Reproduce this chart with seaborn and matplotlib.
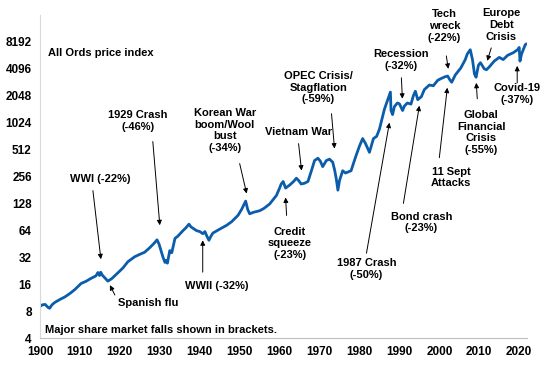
import numpy as np
import pandas as pd
import matplotlib
matplotlib.use("Agg")
import matplotlib.pyplot as plt
import seaborn as sns

# All Ords price index (year, index level)
years = [1900.0, 1900.6, 1901.3, 1902.0, 1902.4, 1903.0, 1903.7, 1905.0, 1906.2, 1907.5,
         1908.7, 1910.3, 1911.5, 1912.8, 1914.0, 1914.5, 1914.9, 1915.2, 1915.6, 1917.0,
         1918.0, 1918.7, 1920.0, 1920.8, 1922.0, 1923.7, 1925.0, 1926.2, 1927.5, 1928.5,
         1929.3, 1929.8, 1930.3, 1930.8, 1931.3, 1931.6, 1931.9, 1932.5, 1933.0, 1933.8,
         1934.5, 1935.8, 1936.5, 1937.3, 1937.8, 1939.2, 1940.0, 1940.8, 1941.3, 1941.8,
         1942.3, 1942.8, 1943.3, 1945.0, 1946.7, 1948.0, 1949.6, 1950.5, 1951.5, 1952.0,
         1952.5, 1953.5, 1955.0, 1956.0, 1957.5, 1959.2, 1960.0, 1960.4, 1960.9, 1961.5,
         1962.5, 1963.5, 1964.2, 1964.8, 1965.4, 1966.2, 1967.1, 1968.0, 1968.75, 1969.6,
         1970.2, 1970.8, 1971.7, 1972.5, 1973.3, 1973.8, 1974.2, 1974.6, 1975.0, 1975.8,
         1976.5, 1977.9, 1979.0, 1980.0, 1980.8, 1981.5, 1982.5, 1983.5, 1984.3, 1985.0,
         1986.25, 1987.0, 1987.75, 1987.9, 1988.3, 1988.75, 1989.5, 1990.0, 1990.8, 1991.25,
         1992.0, 1992.9, 1993.5, 1994.0, 1994.6, 1995.5, 1996.25, 1997.5, 1998.5, 1999.6,
         2000.5, 2001.5, 2002.1, 2002.6, 2003.1, 2004.0, 2005.4, 2006.5, 2007.0, 2007.75,
         2008.3, 2008.8, 2009.2, 2009.8, 2010.3, 2011.25, 2011.8, 2012.5, 2013.75, 2015.0,
         2016.0, 2017.1, 2018.5, 2019.6, 2020.0, 2020.2, 2020.6, 2021.5, 2021.8]
index_level = [9.0, 9.4, 9.5, 8.8, 8.6, 9.4, 10.0, 10.8, 11.5, 12.6,
               13.9, 16.3, 17.2, 18.6, 19.8, 21.6, 20.0, 21.8, 20.2, 17.3,
               18.5, 19.8, 22.5, 24.4, 28.5, 32.4, 34.5, 36.4, 41.0, 45.5,
               50.1, 45.0, 38.0, 32.0, 28.0, 29.5, 27.5, 38.0, 36.0, 52.0,
               55.0, 63.5, 68.0, 75.0, 70.0, 63.5, 62.0, 58.7, 62.0, 55.0,
               49.5, 55.0, 59.7, 66.0, 72.7, 80.0, 94.3, 110.0, 136.0, 110.0,
               98.0, 102.0, 106.0, 112.0, 126.0, 157.0, 190.0, 211.0, 225.0, 190.0,
               205.0, 225.0, 245.0, 230.0, 211.0, 215.0, 225.0, 300.0, 386.0, 410.0,
               380.0, 330.0, 386.0, 400.0, 370.0, 300.0, 240.0, 180.0, 230.0, 297.0,
               280.0, 297.0, 420.0, 560.0, 680.0, 600.0, 477.0, 680.0, 720.0, 865.0,
               1448.0, 1800.0, 2250.0, 1400.0, 1262.0, 1550.0, 1700.0, 1665.0, 1400.0, 1570.0,
               1700.0, 1650.0, 2050.0, 2300.0, 1850.0, 2000.0, 2400.0, 2700.0, 2650.0, 3050.0,
               3200.0, 3350.0, 3400.0, 3100.0, 2900.0, 3500.0, 4200.0, 5200.0, 6000.0, 6700.0,
               5200.0, 3600.0, 3300.0, 4500.0, 4800.0, 4100.0, 4000.0, 4300.0, 5000.0, 5500.0,
               5200.0, 5800.0, 6200.0, 6700.0, 7100.0, 5000.0, 6000.0, 7600.0, 7800.0]

y_ticks = [4, 8, 16, 32, 64, 128, 256, 512, 1024, 2048, 4096, 8192]
x_ticks = list(range(1900, 2021, 10))

# event labels: text, text position (year, level), arrow tail, arrow tip
event_labels = ["WWI (-22%)", "1929 Crash\n(-46%)", "Korean War\nboom/Wool\nbust\n(-34%)",
                "Vietnam War", "OPEC Crisis/\nStagflation\n(-59%)", "Recession\n(-32%)",
                "Tech\nwreck\n(-22%)", "Europe\nDebt\nCrisis", "Covid-19\n(-37%)",
                "Global\nFinancial\nCrisis\n(-55%)", "11 Sept\nAttacks", "Bond crash\n(-23%)",
                "1987 Crash\n(-50%)", "Credit\nsqueeze\n(-23%)", "WWII (-32%)", "Spanish flu"]
label_pos = [(1915, 237), (1924.5, 1076), (1946.25, 833), (1964.75, 813), (1969.75, 2520),
             (1990.5, 5160), (2001.25, 12360), (2015.5, 12690), (2019.5, 2150), (2010.5, 792),
             (2003, 249), (1995.5, 78.7), (1981.75, 23.5), (1962.5, 45.8), (1944.25, 15.2),
             (1927, 9.8)]
arrow_tail = [(1913.25, 178), (1928.25, 630), (1950, 357), (1964.75, 597), (1973, 1290),
              (1990.5, 3250), (2001.75, 5712), (2013, 7024), (2019.5, 2856), (2009.5, 1896),
              (2000, 416), (1991, 128), (1981.75, 35.5), (1961.75, 94), (1940.75, 21.8),
              (1918.75, 12.1)]
arrow_tip = [(1915.25, 30.4), (1930, 73), (1951.75, 165), (1965.5, 298), (1973.75, 526),
             (1990.75, 1896), (2002.25, 4096), (2012, 5030), (2019.5, 4420), (2009.25, 2856),
             (2002, 2520), (1995, 1585), (1987.5, 1024), (1961.5, 149), (1940.75, 49.5),
             (1917.5, 15.6)]

df = pd.DataFrame({"year": years, "level": index_level})

sns.set_style("white")
plt.rcParams["font.family"] = ["Liberation Sans", "DejaVu Sans"]
plt.rcParams["font.weight"] = "bold"
plt.rcParams["text.color"] = "black"
plt.rcParams["xtick.labelcolor"] = "black"
plt.rcParams["ytick.labelcolor"] = "black"

fig = plt.figure(figsize=(5.48, 3.66), dpi=100)
ax = fig.add_axes([0.073, 0.0765, 0.889, 0.8825])

sns.lineplot(data=df, x="year", y="level", ax=ax, color="#0b5cab", linewidth=2.0)

ax.set_yscale("log", base=2)
ax.set_ylim(4, 16384)
ax.set_xlim(1900, 2022)
ax.set_yticks(y_ticks)
ax.set_yticklabels([str(v) for v in y_ticks])
ax.minorticks_off()
ax.set_xticks(x_ticks)
ax.set_xlabel("")
ax.set_ylabel("")
ax.tick_params(axis="both", labelsize=8.5, length=3, color="#bfbfbf",
               labelcolor="black", pad=3)
for lab in ax.get_xticklabels() + ax.get_yticklabels():
    lab.set_fontweight("bold")

for side in ["top", "right"]:
    ax.spines[side].set_visible(False)
ax.spines["left"].set_color("#d9d9d9")
ax.spines["bottom"].set_color("#bfbfbf")

for text, pos, tail, tip in zip(event_labels, label_pos, arrow_tail, arrow_tip):
    ax.text(pos[0], pos[1], text, ha="center", va="center", fontsize=8,
            fontweight="bold", multialignment="center", color="black")
    ax.annotate("", xy=tip, xytext=tail,
                arrowprops=dict(arrowstyle="-|>", color="black", lw=0.7,
                                mutation_scale=7, shrinkA=0, shrinkB=0))

ax.text(1902, 6177, "All Ords price index", ha="left", va="center",
        fontsize=8, fontweight="bold", color="black")
ax.text(1901.25, 4.9, "Major share market falls shown in brackets.", ha="left",
        va="center", fontsize=8, fontweight="bold", color="black")

fig.savefig("out.png", dpi=100)
